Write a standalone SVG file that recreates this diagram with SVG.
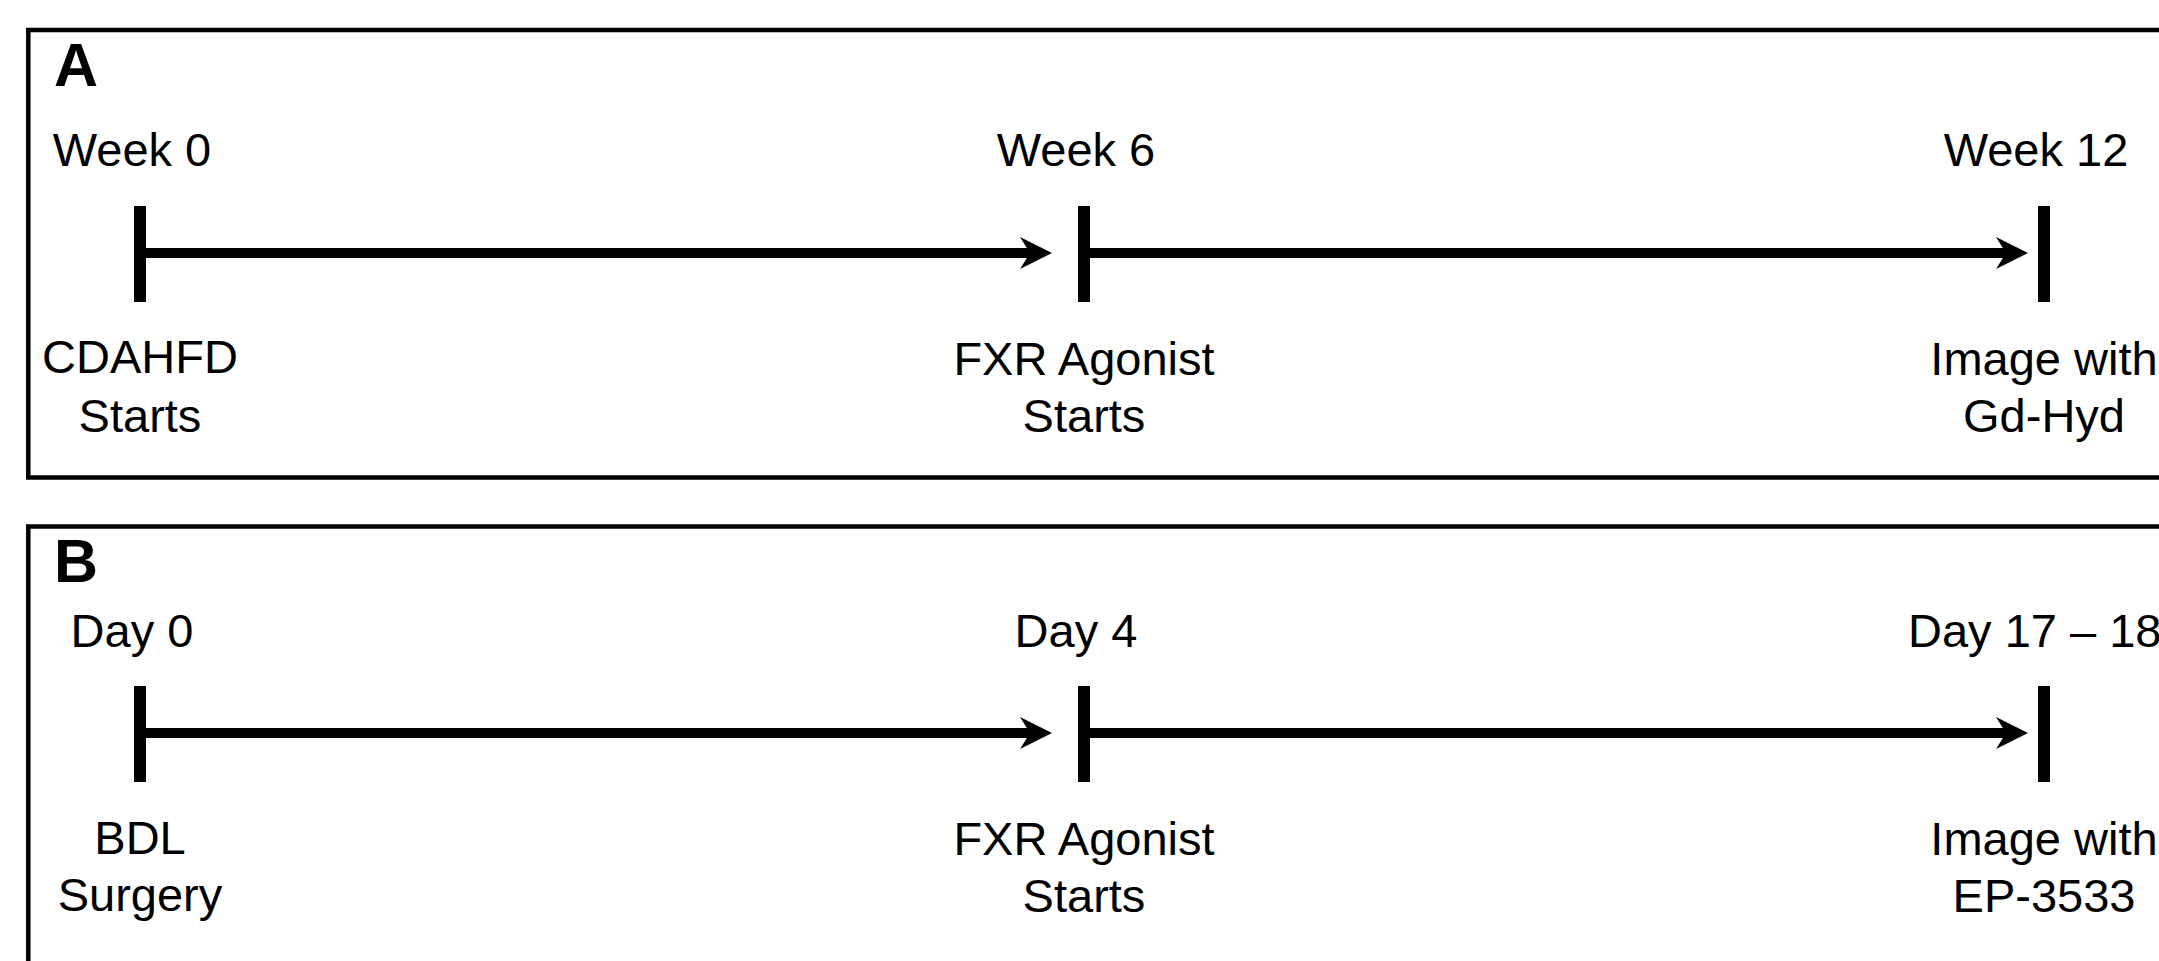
<svg xmlns="http://www.w3.org/2000/svg" width="2159" height="961" viewBox="0 0 2159 961">
<style>
  .panel { fill: none; stroke: #000; stroke-width: 4.5; }
  .tick { fill: #000; }
  .lbl { font-family: "Liberation Sans", Arial, sans-serif; font-size: 47px; fill: #000; }
  .mid { text-anchor: middle; }
  .plabel { font-family: "Liberation Sans", Arial, sans-serif; font-size: 61px; font-weight: bold; fill: #000; }
  .conn { stroke: #000; stroke-width: 10; fill: none; marker-end: url(#arrow); }
</style>
<defs>
  <marker id="arrow" markerUnits="userSpaceOnUse" markerWidth="34" markerHeight="36" refX="10" refY="17" orient="auto">
    <path d="M0,1 L32,17 L0,33 L10,17 Z" fill="#000"/>
  </marker>
</defs>
<rect width="2159" height="961" fill="#fff"/>

<g id="panelA">
  <rect class="panel" x="28.3" y="30" width="2200" height="447.5"/>
  <text class="plabel" x="54" y="86">A</text>
</g>
<g id="panelB">
  <rect class="panel" x="28.3" y="526.5" width="2200" height="500"/>
  <text class="plabel" x="54" y="582">B</text>
</g>

<g id="connectors">
  <line class="conn" x1="146" y1="253" x2="1030" y2="253"/>
  <line class="conn" x1="1090" y1="253" x2="2006" y2="253"/>
  <line class="conn" x1="146" y1="733" x2="1030" y2="733"/>
  <line class="conn" x1="1090" y1="733" x2="2006" y2="733"/>
</g>

<g id="a-week0">
  <text class="lbl mid" x="132" y="166">Week 0</text>
  <rect class="tick" x="134" y="206" width="12" height="96"/>
  <text class="lbl mid" x="140" y="373">CDAHFD</text>
  <text class="lbl mid" x="140" y="432">Starts</text>
</g>
<g id="a-week6">
  <text class="lbl mid" x="1076" y="166">Week 6</text>
  <rect class="tick" x="1078" y="206" width="12" height="96"/>
  <text class="lbl mid" x="1084" y="375">FXR Agonist</text>
  <text class="lbl mid" x="1084" y="432">Starts</text>
</g>
<g id="a-week12">
  <text class="lbl mid" x="2036" y="166">Week 12</text>
  <rect class="tick" x="2038" y="206" width="12" height="96"/>
  <text class="lbl mid" x="2044" y="375">Image with</text>
  <text class="lbl mid" x="2044" y="432">Gd-Hyd</text>
</g>

<g id="b-day0">
  <text class="lbl mid" x="132" y="647">Day 0</text>
  <rect class="tick" x="134" y="686" width="12" height="96"/>
  <text class="lbl mid" x="140" y="854">BDL</text>
  <text class="lbl mid" x="140" y="911">Surgery</text>
</g>
<g id="b-day4">
  <text class="lbl mid" x="1076" y="647">Day 4</text>
  <rect class="tick" x="1078" y="686" width="12" height="96"/>
  <text class="lbl mid" x="1084" y="855">FXR Agonist</text>
  <text class="lbl mid" x="1084" y="912">Starts</text>
</g>
<g id="b-day17">
  <text class="lbl" x="1908" y="647">Day 17 – 18</text>
  <rect class="tick" x="2038" y="686" width="12" height="96"/>
  <text class="lbl mid" x="2044" y="855">Image with</text>
  <text class="lbl mid" x="2044" y="912">EP-3533</text>
</g>
</svg>
